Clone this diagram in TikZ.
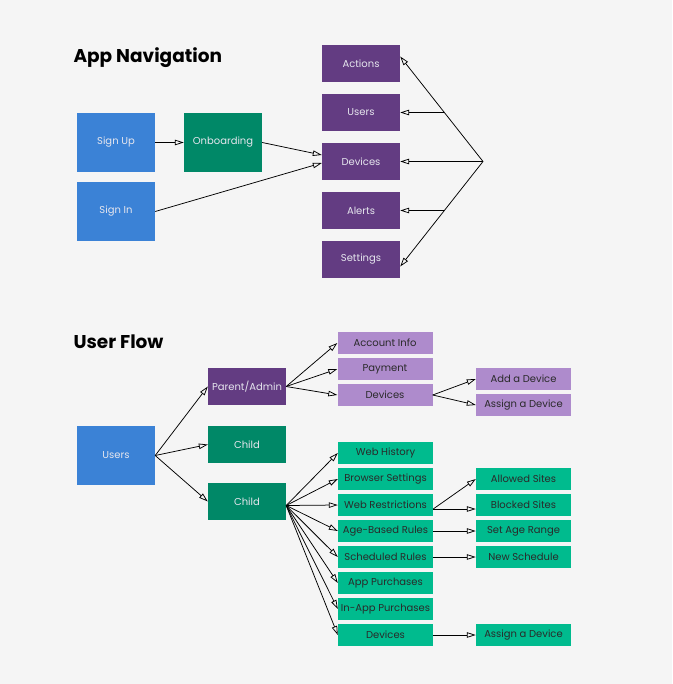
\documentclass[tikz,border=0pt]{standalone}
\usepackage{fontspec}
\setmainfont{Poppins}
\usetikzlibrary{arrows.meta}

\definecolor{bgray}{HTML}{F5F5F5}
\definecolor{nblue}{HTML}{3B82D6}
\definecolor{ngreen}{HTML}{008867}
\definecolor{npurple}{HTML}{633C82}
\definecolor{lpurple}{HTML}{AE8BCC}
\definecolor{lgreen}{HTML}{00BB8E}
\definecolor{ltext}{HTML}{E6E6EE}
\definecolor{dtext}{HTML}{2A2A2A}

\begin{document}
\begin{tikzpicture}[x=1pt,y=-1pt,
  box/.style = {inner sep=0, font=\fontsize{10}{12}\selectfont},
  bigbox/.style = {box, minimum width=78pt, minimum height=59pt, text=ltext},
  navbox/.style = {box, fill=npurple, minimum width=78pt, minimum height=37pt, text=ltext},
  smallbox/.style = {box, minimum width=95pt, minimum height=22pt, text=dtext},
  title/.style = {anchor=west, font=\fontsize{18.5}{22}\selectfont\bfseries},
  arr/.style = {-{Triangle[open,length=9pt,width=5.5pt]}, line width=0.75pt},
  ]
  \useasboundingbox[fill=bgray] (0,0) rectangle (672,684);

  % App Navigation
  \node[title] (navtitle) at (70,58) {App Navigation};

  \node[bigbox,fill=nblue] (signup) at (116,142.5) {Sign Up};
  \node[bigbox,fill=nblue] (signin) at (116,211.5) {Sign In};
  \node[bigbox,fill=ngreen] (onboard) at (223,142.5) {Onboarding};

  \node[navbox] (actions) at (361,63.5) {Actions};
  \node[navbox] (users) at (361,112.5) {Users};
  \node[navbox] (devices) at (361,161.5) {Devices};
  \node[navbox] (alerts) at (361,210.5) {Alerts};
  \node[navbox] (settings) at (361,259.5) {Settings};

  \draw[arr] (signup) -- (onboard);
  \draw[arr] (onboard.east) -- ([yshift=6.5pt]devices.west);
  \draw[arr] (signin.east) -- ([yshift=-1.5pt]devices.west);

  \coordinate (hub) at (483,161.5);
  \coordinate (hubup) at (443.5,112.5);
  \coordinate (hubdown) at (443.5,210.5);
  \draw[arr] (hub) -- ([yshift=7pt]actions.east);
  \draw[arr] (hubup) -- (users.east);
  \draw[arr] (hub) -- (devices.east);
  \draw[arr] (hubdown) -- (alerts.east);
  \draw[arr] (hub) -- ([yshift=-7pt]settings.east);

  % User Flow
  \node[title] (flowtitle) at (70,342) {User Flow};

  \node[bigbox,fill=nblue] (fusers) at (116,455.5) {Users};
  \node[navbox] (parent) at (247,386.5) {Parent/Admin};
  \node[navbox,fill=ngreen] (child) at (247,444.5) {Child};
  \node[navbox,fill=ngreen] (childb) at (247,501.5) {Child};

  \draw[arr] (fusers.east) -- (parent.west);
  \draw[arr] (fusers.east) -- (child.west);
  \draw[arr] (fusers.east) -- (childb.west);

  % parent branch
  \node[smallbox,fill=lpurple] (account) at (385,343) {Account Info};
  \node[smallbox,fill=lpurple] (payment) at (385,369) {Payment};
  \node[smallbox,fill=lpurple] (pdevices) at (385,395) {Devices};
  \node[smallbox,fill=lpurple] (adddev) at (523.5,379) {Add a Device};
  \node[smallbox,fill=lpurple] (assigndev) at (523.5,405) {Assign a Device};

  \draw[arr] (parent.east) -- (account.west);
  \draw[arr] (parent.east) -- (payment.west);
  \draw[arr] (parent.east) -- (pdevices.west);
  \draw[arr] (pdevices.east) -- (adddev.west);
  \draw[arr] (pdevices.east) -- (assigndev.west);

  % child branch
  \node[smallbox,fill=lgreen] (history) at (385.5,453) {Web History};
  \node[smallbox,fill=lgreen] (browser) at (385.5,479) {Browser Settings};
  \node[smallbox,fill=lgreen] (restrict) at (385.5,505) {Web Restrictions};
  \node[smallbox,fill=lgreen] (agerules) at (385.5,531) {Age-Based Rules};
  \node[smallbox,fill=lgreen] (schedrules) at (385.5,557) {Scheduled Rules};
  \node[smallbox,fill=lgreen] (apppur) at (385.5,583) {App Purchases};
  \node[smallbox,fill=lgreen] (inapp) at (385.5,609) {In-App Purchases};
  \node[smallbox,fill=lgreen] (cdevices) at (385.5,635) {Devices};

  \node[smallbox,fill=lgreen] (allowed) at (523.5,479) {Allowed Sites};
  \node[smallbox,fill=lgreen] (blocked) at (523.5,505) {Blocked Sites};
  \node[smallbox,fill=lgreen] (agerange) at (523.5,531) {Set Age Range};
  \node[smallbox,fill=lgreen] (newsched) at (523.5,557) {New Schedule};
  \node[smallbox,fill=lgreen] (cassign) at (523.5,635) {Assign a Device};

  \foreach \n in {history,browser,restrict,agerules,schedrules,apppur,inapp,cdevices}
    \draw[arr] ([yshift=-4pt]childb.east) -- (\n.west);

  \draw[arr] ([yshift=-4pt]restrict.east) -- (allowed.west);
  \draw[arr] ([yshift=-4pt]restrict.east) -- ([yshift=-4pt]blocked.west);
  \draw[arr] (agerules) -- (agerange);
  \draw[arr] (schedrules) -- (newsched);
  \draw[arr] (cdevices) -- (cassign);

\end{tikzpicture}
\end{document}
